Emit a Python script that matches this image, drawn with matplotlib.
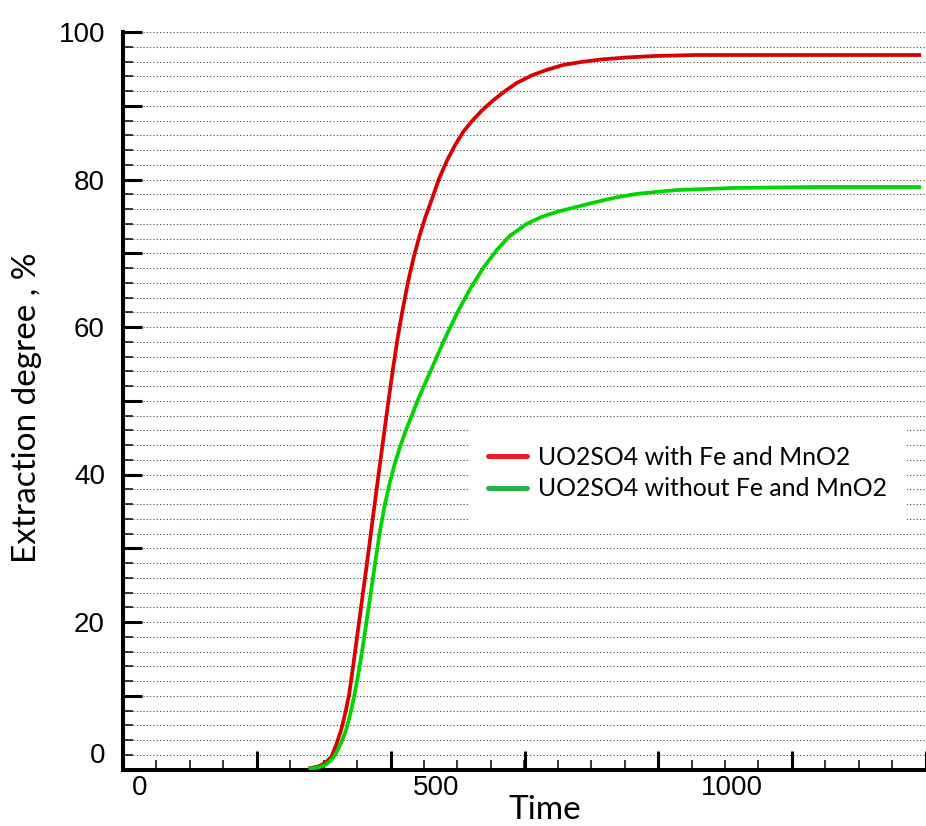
import numpy as np
import matplotlib
matplotlib.use("Agg")
import matplotlib.pyplot as plt
from matplotlib.lines import Line2D
from matplotlib.patches import Rectangle

# Curve values (x in the Time units of the printed labels)
red_x = [288.1, 301.5, 313.2, 323.3, 331.7, 340.0, 346.7, 353.4, 360.1, 368.5,
         376.9, 385.3, 393.6, 402.0, 410.4, 418.8, 427.1, 435.5, 443.9, 452.3,
         462.3, 472.4, 482.4, 494.1, 505.9, 519.3, 532.7, 546.1, 561.1, 577.9,
         594.6, 614.7, 636.5, 661.6, 686.8, 715.2, 745.4, 778.9, 820.8, 871.0,
         938.0, 1316.6]
red_y = [0.20, 0.41, 0.88, 1.69, 3.32, 5.36, 7.53, 10.10, 13.90, 18.92,
         23.93, 28.95, 34.10, 39.25, 44.27, 49.29, 54.03, 58.51, 62.31, 65.83,
         69.36, 72.34, 74.92, 77.49, 80.20, 82.64, 84.68, 86.44, 87.93, 89.36,
         90.58, 91.86, 93.08, 94.10, 94.85, 95.53, 95.93, 96.27, 96.54, 96.75,
         96.88, 96.88]

green_x = [288.1, 301.5, 313.2, 323.3, 331.7, 340.0, 348.4, 355.1, 361.8, 368.5,
           375.2, 381.9, 388.6, 397.0, 405.4, 413.7, 422.1, 430.5, 438.9, 448.9,
           459.0, 469.0, 480.7, 494.1, 514.2, 536.0, 557.8, 581.2, 603.0, 624.8,
           653.3, 678.4, 703.5, 737.0, 770.5, 804.0, 837.5, 871.0, 909.5, 954.8,
           1000.0, 1072.0, 1139.0, 1316.6]
green_y = [0.14, 0.27, 0.61, 1.29, 2.24, 3.59, 5.36, 7.39, 9.83, 12.68,
           15.93, 19.46, 23.12, 27.73, 32.20, 35.86, 38.85, 41.42, 43.59, 45.90,
           47.93, 49.97, 52.14, 54.58, 58.24, 61.90, 65.15, 68.14, 70.44, 72.34,
           73.97, 74.92, 75.59, 76.27, 76.95, 77.56, 78.03, 78.31, 78.58, 78.71,
           78.85, 78.92, 78.98, 78.98]

labels = ["UO2SO4 with Fe and MnO2", "UO2SO4 without Fe and MnO2"]

x_tick_vals = [0, 500, 1000]
x_tick_text = ["0", "500", "1000"]
y_tick_vals = [2.3, 20, 40, 60, 80, 100]
y_tick_text = ["0", "20", "40", "60", "80", "100"]

fig = plt.figure(figsize=(9.26, 8.26), dpi=100)
ax = fig.add_axes([123 / 926, 56.5 / 826, 803 / 926, 737.5 / 826])

ax.plot(red_x, red_y, color="#d90000", lw=2.7, zorder=3)
ax.plot(green_x, green_y, color="#00d400", lw=2.7, zorder=3)

ax.set_xlim(-28.5, 1316)
ax.set_ylim(0, 100)

# tick marks only, the numbers come from the secondary axes below
ax.set_xticks(np.arange(-28.5, 1330, 226.1))
ax.set_xticks(np.arange(-28.5, 1330, 56.5), minor=True)
ax.set_yticks(np.arange(0, 101, 10))
ax.set_yticks(np.arange(0, 101, 2), minor=True)
ax.tick_params(which="both", direction="in", labelbottom=False, labelleft=False,
               color="black")
ax.tick_params(which="major", length=13.5, width=2.2)
ax.tick_params(which="minor", length=7.5, width=1.1)

# dotted horizontal grid
ax.set_axisbelow(True)
ax.grid(which="both", axis="y", color="#333333", lw=0.75,
        linestyle=(0, (1, 2.2)))

for side in ["top", "right"]:
    ax.spines[side].set_visible(False)
for side in ["left", "bottom"]:
    ax.spines[side].set_linewidth(2.9)

secx = ax.secondary_xaxis("bottom")
secx.set_xticks(x_tick_vals, labels=x_tick_text)
secx.tick_params(length=0, pad=4, labelsize=20)
secx.spines["bottom"].set_visible(False)
for t in secx.get_xticklabels():
    t.set_fontfamily("Liberation Sans")

secy = ax.secondary_yaxis("left")
secy.set_yticks(y_tick_vals, labels=y_tick_text)
secy.tick_params(length=0, pad=13, labelsize=20)
secy.spines["left"].set_visible(False)
for t in secy.get_yticklabels():
    t.set_fontfamily("Liberation Sans")

ax.set_xlabel("Time", fontsize=24, fontfamily="Lato", va="baseline")
ax.xaxis.set_label_coords((545 - 123) / 803, (769.5 - 819) / 737.5)
ax.set_ylabel("Extraction degree , %", fontsize=24, fontfamily="Lato",
              va="center")
ax.yaxis.set_label_coords((27 - 123) / 803, (769.5 - 408) / 737.5)

# white box behind the legend hides the grid
ax.add_patch(Rectangle((0.432, 0.331), 0.542, 0.1405, transform=ax.transAxes,
                       facecolor="white", edgecolor="none", zorder=1.5))

handles = [Line2D([], [], color="#ED1C24", lw=3.6, solid_capstyle="round"),
           Line2D([], [], color="#22B14C", lw=3.6, solid_capstyle="round")]
ax.legend(handles, labels, loc="center left", bbox_to_anchor=(0.4545, 0.4018),
          frameon=False, borderpad=0, borderaxespad=0, handlelength=1.58,
          handletextpad=0.44, labelspacing=0.34,
          prop={"family": "Lato", "size": 17.9})

fig.savefig("out.png", dpi=100)
